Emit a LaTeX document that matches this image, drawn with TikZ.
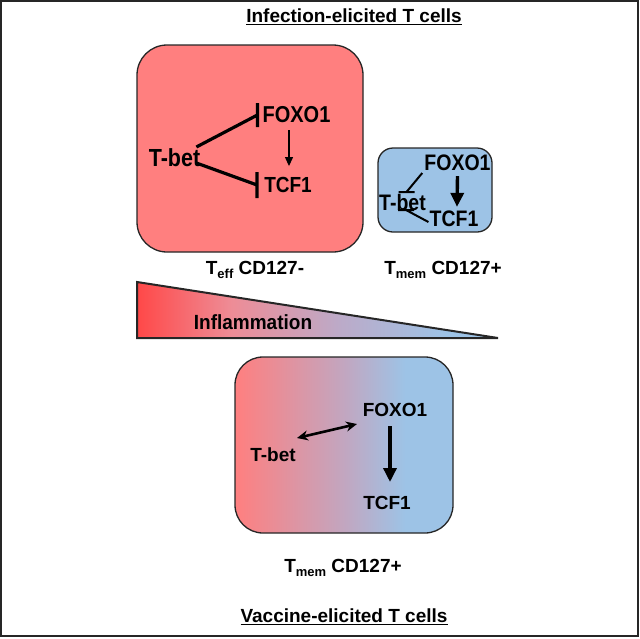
\documentclass[tikz,border=0pt]{standalone}
\usepackage{fontspec}
\setmainfont{Liberation Sans}
\usetikzlibrary{arrows.meta}
\definecolor{cred}{RGB}{255,127,127}
\definecolor{cblue}{RGB}{157,195,230}
\definecolor{cstrong}{RGB}{255,72,72}
\definecolor{cmid}{RGB}{194,166,192}
\definecolor{cpink}{RGB}{238,140,150}
\definecolor{cpurp}{RGB}{188,170,200}
\pgfdeclarehorizontalshading{boxgrad}{100bp}{color(0bp)=(cred); color(25bp)=(cred); color(50bp)=(cmid); color(64bp)=(cblue); color(100bp)=(cblue)}
\pgfdeclarehorizontalshading{trigrad}{100bp}{color(0bp)=(cstrong); color(25bp)=(cstrong); color(38bp)=(cpink); color(53bp)=(cpurp); color(68bp)=(cblue); color(100bp)=(cblue)}
\newcommand{\subtxt}[1]{\raisebox{-0.22em}{\fontsize{13}{13}\selectfont #1}}
\newcommand{\tall}[1]{\scalebox{1}[1.15]{#1}}
\tikzset{
  lbl/.style={inner sep=0pt, font=\fontsize{19}{19}\selectfont\bfseries},
  ttl/.style={inner sep=0pt, font=\fontsize{19}{19}\selectfont\bfseries},
  cellbox/.style={draw=black!85, line width=1.3pt},
  inhib/.style={line width=3.2pt},
  inhibthin/.style={line width=2pt},
  thinarrow/.style={line width=1.2pt, -{Triangle[length=9pt,width=8pt]}},
  bigarrow/.style={line width=3.4pt, -{Triangle[length=14pt,width=13pt]}},
  dblarrow/.style={line width=2.6pt, {Stealth[length=11pt,width=10pt]}-{Stealth[length=11pt,width=10pt]}}
}
\begin{document}
\begin{tikzpicture}[x=1pt,y=-1pt]
\useasboundingbox (0,0) rectangle (640,638);
\draw[line width=2.2pt, draw=black!85] (1.1,1.1) rectangle (638,636);

% titles
\node[ttl] (t1) at (354,17) {\underline{Infection-elicited T cells}};
\node[ttl] (t2) at (344,617) {\underline{Vaccine-elicited T cells}};

% box 1 (effector)
\node[cellbox, fill=cred, rounded corners=30pt, minimum width=226pt, minimum height=207pt] (box1) at (250,148.5) {};
\node[lbl, font=\fontsize{21.5}{21.5}\selectfont\bfseries] (tb1) at (174.5,158) {\tall{T-bet}};
\node[lbl, font=\fontsize{20}{20}\selectfont\bfseries] (fx1) at (296.5,115) {\tall{FOXO1}};
\node[lbl, font=\fontsize{19}{19}\selectfont\bfseries] (tc1) at (288,185) {\tall{TCF1}};
\draw[inhib] ([shift={(-4,-11)}]tb1.east) -- ([xshift=-5pt]fx1.west) ++(0,-12) -- ++(0,24);
\draw[inhib] ([shift={(-4,5)}]tb1.east) -- ([xshift=-7pt]tc1.west) ++(0,-13) -- ++(0,26);
\draw[thinarrow] ([shift={(-7.5,7)}]fx1.south) -- ([shift={(1,-11)}]tc1.north);
\node[lbl] (lab1) at (255,270) {T\subtxt{eff} CD127-};

% box 2 (memory)
\node[cellbox, fill=cblue, rounded corners=15pt, minimum width=114pt, minimum height=84pt] (box2) at (435,190) {};
\node[lbl, font=\fontsize{19.5}{19.5}\selectfont\bfseries] (fx2) at (457.5,163) {\tall{FOXO1}};
\node[lbl, font=\fontsize{19.5}{19.5}\selectfont\bfseries] (tb2) at (402.5,202) {\tall{T-bet}};
\node[lbl, font=\fontsize{19.5}{19.5}\selectfont\bfseries] (tc2) at (454,219) {\tall{TCF1}};
\draw[inhibthin] ([shift={(-2,10)}]fx2.west) -- ([shift={(4,-10)}]tb2.center) ++(-8,0) -- ++(16,0);
\draw[inhibthin] ([shift={(-1,3)}]tc2.west) -- ([shift={(3.5,8)}]tb2.center) ++(-8,0) -- ++(16,0);
\draw[bigarrow] ([shift={(0,5)}]fx2.south) -- ([shift={(3,-4)}]tc2.north);
\node[lbl] (lab2) at (443,270) {T\subtxt{mem} CD127+};

% inflammation triangle
\coordinate (triA) at (137,282);
\coordinate (triB) at (137,338);
\coordinate (triC) at (498,338);
\draw[line width=2pt, draw=black!85, shading=trigrad, line join=miter] (triA) -- (triB) -- (triC) -- cycle;
\node[lbl] (infl) at (253,322) {\scalebox{1}[1.08]{Inflammation}};

% box 3 (vaccine)
\node[cellbox, shading=boxgrad, rounded corners=28pt, minimum width=218pt, minimum height=176pt] (box3) at (344,445) {};
\node[lbl] (fx3) at (395,410) {FOXO1};
\node[lbl] (tb3) at (273,455) {T-bet};
\node[lbl] (tc3) at (387,503) {TCF1};
\draw[dblarrow] ([shift={(24,-17)}]tb3.center) -- ([shift={(-38,14)}]fx3.center);
\draw[bigarrow] ([shift={(-5,16)}]fx3.center) -- ([shift={(3,-21)}]tc3.center);
\node[lbl] (lab3) at (343,568) {T\subtxt{mem} CD127+};
\end{tikzpicture}
\end{document}
